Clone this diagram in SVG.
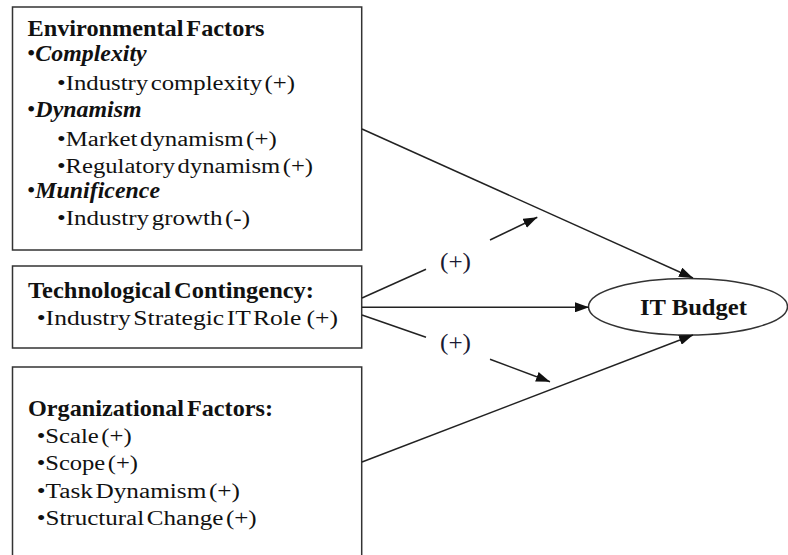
<svg xmlns="http://www.w3.org/2000/svg" width="788" height="555" viewBox="0 0 788 555">
<style>
.box{fill:#fff;stroke:#333;stroke-width:1.5}
.t{font-family:"Liberation Serif","Times New Roman",serif;fill:#111;white-space:pre}
.h{font-size:22.5px;font-weight:bold;word-spacing:-3px}
.r{font-size:20.5px;word-spacing:-3px}
.bi{font-weight:bold;font-style:italic}
.lb{font-size:23px;fill:#1a1a33}
.ln{stroke:#222;stroke-width:1.5;fill:none}
.ar{stroke:#222;stroke-width:1.5;fill:none;marker-end:url(#ah)}
</style>
<defs>
<marker id="ah" viewBox="0 0 14 10" refX="14" refY="5" markerWidth="14" markerHeight="10" markerUnits="userSpaceOnUse" orient="auto">
<path d="M0,0 L14,5 L0,10 Z" fill="#111"/>
</marker>
</defs>
<rect width="788" height="555" fill="#fff"/>
<g id="environmental">
<rect class="box" x="12.5" y="7" width="349.2" height="243"/>
<text class="t h" x="27.5" y="36" textLength="237" lengthAdjust="spacingAndGlyphs">Environmental Factors</text>
<text class="t h" x="27" y="61" textLength="119.7" lengthAdjust="spacingAndGlyphs"><tspan style="font-weight:normal">•</tspan><tspan class="bi">Complexity</tspan></text>
<text class="t r" x="57" y="90" textLength="238" lengthAdjust="spacingAndGlyphs">•Industry complexity (+)</text>
<text class="t h" x="27" y="117" textLength="114.7" lengthAdjust="spacingAndGlyphs"><tspan style="font-weight:normal">•</tspan><tspan class="bi">Dynamism</tspan></text>
<text class="t r" x="57" y="146" textLength="219.7" lengthAdjust="spacingAndGlyphs">•Market dynamism (+)</text>
<text class="t r" x="57" y="173" textLength="256" lengthAdjust="spacingAndGlyphs">•Regulatory dynamism (+)</text>
<text class="t h" x="27" y="198" textLength="133" lengthAdjust="spacingAndGlyphs"><tspan style="font-weight:normal">•</tspan><tspan class="bi">Munificence</tspan></text>
<text class="t r" x="57" y="225" textLength="193" lengthAdjust="spacingAndGlyphs">•Industry growth (-)</text>
</g>
<g id="technological">
<rect class="box" x="12.5" y="266" width="349.2" height="82"/>
<text class="t h" x="28" y="298" textLength="286" lengthAdjust="spacingAndGlyphs">Technological Contingency:</text>
<text class="t r" x="36.7" y="325" textLength="301.3" lengthAdjust="spacingAndGlyphs">•Industry Strategic IT Role  (+)</text>
</g>
<g id="organizational">
<rect class="box" x="12.5" y="367" width="349.2" height="200"/>
<text class="t h" x="28" y="416" textLength="245" lengthAdjust="spacingAndGlyphs">Organizational Factors:</text>
<text class="t r" x="36.7" y="443" textLength="95" lengthAdjust="spacingAndGlyphs">•Scale (+)</text>
<text class="t r" x="36.7" y="470" textLength="101.3" lengthAdjust="spacingAndGlyphs">•Scope (+)</text>
<text class="t r" x="36.7" y="498" textLength="203.3" lengthAdjust="spacingAndGlyphs">•Task Dynamism (+)</text>
<text class="t r" x="36.7" y="525" textLength="220" lengthAdjust="spacingAndGlyphs">•Structural Change (+)</text>
</g>
<g id="itbudget">
<ellipse cx="688" cy="306.7" rx="99.5" ry="28.3" fill="#fff" stroke="#333" stroke-width="1.5"/>
<text class="t" x="640" y="315" font-size="24" font-weight="bold" textLength="107" lengthAdjust="spacingAndGlyphs">IT Budget</text>
</g>
<g id="connectors">
<line class="ar" x1="362" y1="129" x2="693" y2="278"/>
<line class="ar" x1="362" y1="307.3" x2="589" y2="307.3"/>
<line class="ar" x1="362" y1="462" x2="693" y2="335"/>
<line class="ln" x1="362" y1="298" x2="426" y2="269.3"/>
<line class="ar" x1="490" y1="240" x2="537.3" y2="217.3"/>
<line class="ln" x1="362" y1="315" x2="426" y2="337.3"/>
<line class="ar" x1="490" y1="359.3" x2="550" y2="381.7"/>
<text class="t lb" x="440" y="269" textLength="31" lengthAdjust="spacingAndGlyphs">(+)</text>
<text class="t lb" x="440" y="350" textLength="31" lengthAdjust="spacingAndGlyphs">(+)</text>
</g>
</svg>
